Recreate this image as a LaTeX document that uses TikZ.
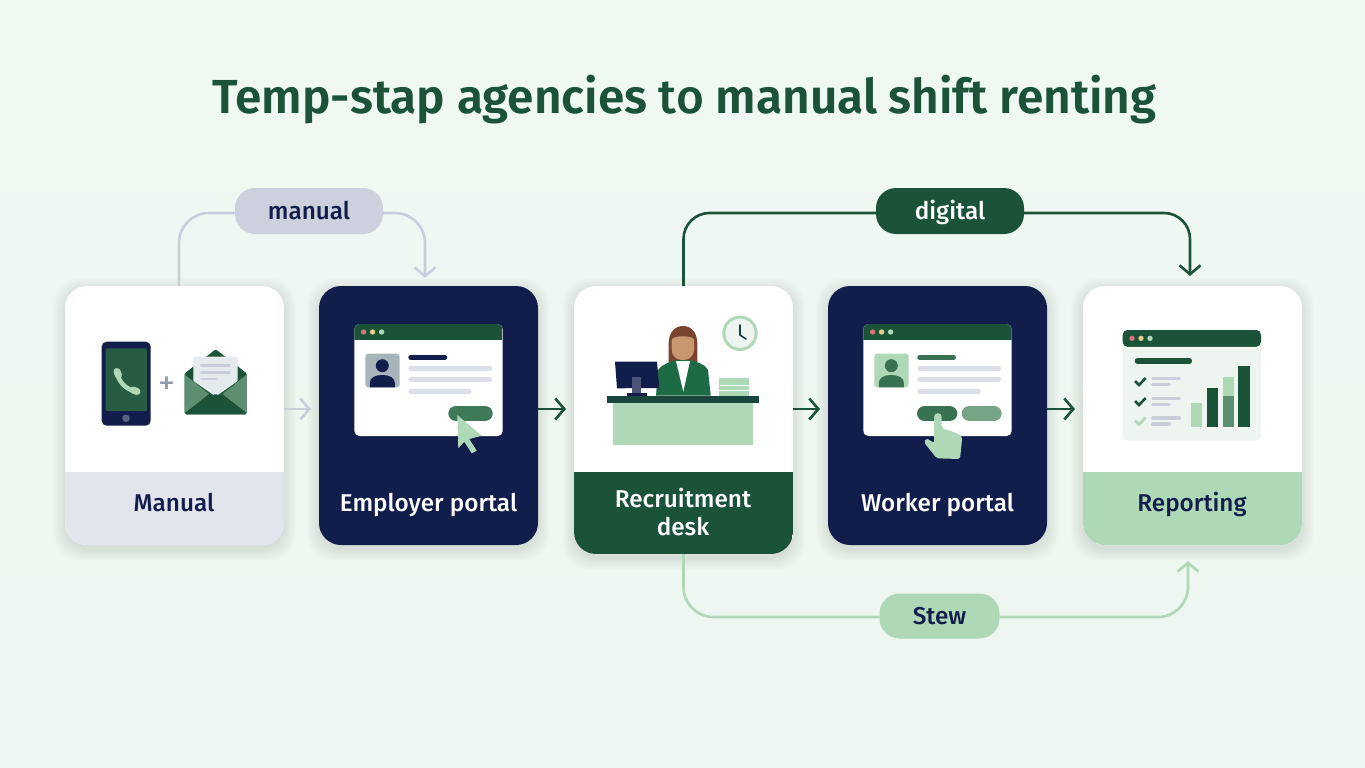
\documentclass[tikz,border=0pt]{standalone}
\usepackage{fontspec}
\setmainfont{Fira Sans}
\newfontfamily\labelfont{Fira Sans Medium}
\newfontfamily\titlefont{Fira Sans SemiBold}
\newfontfamily\titlelight{Fira Sans Medium}
\usetikzlibrary{arrows.meta,calc}
\definecolor{navy}{HTML}{111D4A}
\definecolor{forest}{HTML}{1B5338}
\definecolor{midgreen}{HTML}{3F7A58}
\definecolor{softgreen}{HTML}{5C8F70}
\definecolor{mint}{HTML}{AFD8B6}
\definecolor{mist}{HTML}{E3E5EE}
\definecolor{linegrey}{HTML}{DCDEE8}
\definecolor{pillgrey}{HTML}{CDD1DE}
\definecolor{wirelight}{HTML}{C9CEDB}
\definecolor{paper}{HTML}{EEF5F0}
\definecolor{bgtop}{HTML}{F0F8F2}
\definecolor{bgbottom}{HTML}{EEF6F1}
\definecolor{dotred}{HTML}{D9737B}
\definecolor{dotyellow}{HTML}{E6C98A}
\definecolor{hair}{HTML}{7A4530}
\definecolor{skin}{HTML}{C9976F}
\definecolor{jacket}{HTML}{1D6B45}
\tikzset{
  cardbox/.style={rectangle,rounded corners=22pt,minimum width=219pt,inner sep=0pt,outer sep=0pt,fill=white},
  cardlabel/.style={font=\labelfont\fontsize{24.3}{28}\selectfont,align=center,inner sep=0pt,anchor=base},
  pill/.style={rectangle,rounded corners=20pt,inner sep=0pt,outer sep=0pt,minimum height=46pt},
  pilltext/.style={font=\labelfont\fontsize{24.3}{28}\selectfont,inner sep=0pt,anchor=base},
  wire/.style={line width=2.6pt,rounded corners=30pt},
  flowtip/.style={-{Straight Barb[length=9pt,width=21pt,line width=2.6pt]}},
}
% soft drop shadow below a rounded card
\newcommand{\softshadow}[4]{%
  \foreach \g in {1,2,...,12}{
    \fill[black!40!forest,opacity=0.009,rounded corners=26pt]
      (#1-\g,#2-\g+4) rectangle (#3+\g,#4+\g+4);
  }}
% coloured footer band clipped to the card outline
\newcommand{\footband}[6]{%
  \begin{scope}
    \clip[rounded corners=22pt] (#1,#2) rectangle (#3,#4);
    \fill[#6] (#1,#5) rectangle (#3,#4);
  \end{scope}}
% short rounded bar
\newcommand{\rbar}[5]{\draw[line width=#4pt,line cap=round,#5] (#1+#4/2,#3) -- (#2-#4/2,#3);}
% bust of a person: centre x, head y, colour
\newcommand{\bust}[3]{%
  \fill[#3] (#1,#2) circle (6.5);
  \fill[#3] (#1-12.5,#2+21.6) -- (#1-12.5,#2+17) .. controls (#1-12.5,#2+12) and (#1-7,#2+9.3) .. (#1,#2+9.3)
     .. controls (#1+7,#2+9.3) and (#1+12.5,#2+12) .. (#1+12.5,#2+17) -- (#1+12.5,#2+21.6) -- cycle;}
% application window with title bar and three dots
\newcommand{\appwindow}[6]{%
  \fill[#5,rounded corners=5pt] (#1,#2) rectangle (#3,#4);
  \begin{scope}
    \clip[rounded corners=5pt] (#1,#2) rectangle (#3,#4);
    \fill[forest] (#1,#2) rectangle (#3,#2+#6);
  \end{scope}
  \fill[dotred] (#1+9.3,#2+#6/2) circle (2.7);
  \fill[dotyellow] (#1+18.3,#2+#6/2) circle (2.7);
  \fill[mint] (#1+27.3,#2+#6/2) circle (2.7);}
\begin{document}
\begin{tikzpicture}[x=1pt,y=-1pt]
\useasboundingbox (0,0) rectangle (1365,768);
\shade[top color=bgtop,bottom color=bgbottom] (0,0) rectangle (1365,768);

% title
\node[font=\titlefont\fontsize{47.8}{54}\selectfont,text=forest,inner sep=0pt,anchor=base] (heading) at (684.5,113)
  {Temp-stap agencies {\titlelight to} manual shift renting};

% shadows
\softshadow{65}{286}{284}{545}
\softshadow{319}{286}{538}{545}
\softshadow{574}{286}{793}{554}
\softshadow{828}{286}{1047}{545}
\softshadow{1083}{286}{1302}{545}

% cards
\node[cardbox,minimum height=259pt] (cardManual) at (174.5,415.5) {};
\footband{65}{286}{284}{545}{472}{mist}
\node[cardbox,minimum height=259pt,fill=navy] (cardEmployer) at (428.5,415.5) {};
\node[cardbox,minimum height=268pt] (cardDesk) at (683.5,420) {};
\footband{574}{286}{793}{554}{472}{forest}
\node[cardbox,minimum height=259pt,fill=navy] (cardWorker) at (937.5,415.5) {};
\node[cardbox,minimum height=259pt] (cardReport) at (1192.5,415.5) {};
\footband{1083}{286}{1302}{545}{472}{mint}

% card captions
\node[cardlabel,text=navy] (capManual) at (174,511.5) {Manual};
\node[cardlabel,text=white] (capEmployer) at (428.5,511.5) {Employer portal};
\node[cardlabel,text=white] (capDeskA) at (683,507) {Recruitment};
\node[cardlabel,text=white] (capDeskB) at (683,535) {desk};
\node[cardlabel,text=white] (capWorker) at (937.5,511.5) {Worker portal};
\node[cardlabel,text=navy] (capReport) at (1192,511.5) {Reporting};

% pills
\node[pill,fill=pillgrey,minimum width=148pt] (pillManual) at (309,211) {};
\node[pilltext,text=navy] (txtManual) at (309,219.5) {manual};
\node[pill,fill=forest,minimum width=148pt] (pillDigital) at (950,211) {};
\node[pilltext,text=white] (txtDigital) at (950,219.5) {digital};
\node[pill,fill=mint,minimum width=120pt,minimum height=45pt] (pillStew) at (939.5,616) {};
\node[pilltext,text=navy] (txtStew) at (939.5,624.5) {Stew};

% routed connectors
\draw[wire,wirelight] ([xshift=4.5pt]cardManual.north) |- ([yshift=-2pt]pillManual.west);
\draw[wire,wirelight,flowtip] ([yshift=-2pt]pillManual.east) -| ([xshift=-3.5pt,yshift=8pt]cardEmployer.north);
\draw[wire,forest,rounded corners=26pt] (cardDesk.north) |- ([yshift=-2pt]pillDigital.west);
\draw[wire,forest,flowtip,rounded corners=26pt] ([yshift=-2pt]pillDigital.east) -| ([xshift=-2.5pt,yshift=10pt]cardReport.north);
\draw[wire,mint] (cardDesk.south) |- ([yshift=-1pt]pillStew.west);
\draw[wire,mint,flowtip] ([yshift=-1pt]pillStew.east) -| ([xshift=-4.5pt,yshift=-16pt]cardReport.south);

% straight flow arrows
\coordinate (flowline) at (0,409);
\draw[wire,wirelight,flowtip] (cardManual.east |- flowline) -- ([xshift=-8pt]cardEmployer.west |- flowline);
\draw[wire,forest,flowtip] (cardEmployer.east |- flowline) -- ([xshift=-8pt]cardDesk.west |- flowline);
\draw[wire,forest,flowtip] (cardDesk.east |- flowline) -- ([xshift=-8pt]cardWorker.west |- flowline);
\draw[wire,forest,flowtip] (cardWorker.east |- flowline) -- ([xshift=-8pt]cardReport.west |- flowline);

% phone
\fill[navy,rounded corners=5pt] (101.7,341.7) rectangle (150.7,425.7);
\fill[forest!95!white,rounded corners=1pt] (105.7,348.3) rectangle (147,411);
\fill[navy!70!white] (126,418.3) circle (3.8);
\draw[mint,line width=4.5pt,line cap=round] (117.5,373) .. controls (118,381) and (126,390) .. (135.5,391);
\draw[mint,line width=7pt,line cap=round] (117,371.5) -- (118.5,375.5);
\draw[mint,line width=7pt,line cap=round] (133,390) -- (137,391.5);
\node[font=\fontsize{34}{34}\selectfont,text=wirelight!70!navy,inner sep=0pt] (plusSign) at (167,385.5) {+};

% envelope
\fill[forest,rounded corners=1.5pt] (184.7,373.3) -- (215.7,349.3) -- (246.7,373.3) -- (246.7,414.3) -- (184.7,414.3) -- cycle;
\fill[linegrey!50!paper,rounded corners=1pt] (193.3,356.7) -- (237.7,356.7) -- (237.7,381) -- (215.7,396.5) -- (193.3,381) -- cycle;
\rbar{200}{230.7}{365.7}{2.5}{wirelight}
\rbar{200}{230.7}{372.3}{2.5}{wirelight}
\rbar{200}{217.3}{379}{2.5}{wirelight}
\fill[softgreen] (184.7,374.5) -- (209,394) -- (184.7,413) -- cycle;
\fill[softgreen] (246.7,374.5) -- (222.4,394) -- (246.7,413) -- cycle;
\fill[forest,rounded corners=1.5pt] (184.7,414.3) -- (215.7,393.5) -- (246.7,414.3) -- cycle;

% employer window
\appwindow{354.3}{324}{502.7}{436}{white}{16}
\fill[wirelight!80!forest,rounded corners=3pt] (365.3,353.7) rectangle (399.7,387.3);
\begin{scope}
  \clip[rounded corners=3pt] (365.3,353.7) rectangle (399.7,387.3);
  \bust{382.3}{365.7}{navy}
\end{scope}
\rbar{408.3}{447.3}{357.3}{5}{navy}
\rbar{408.3}{492.3}{368.7}{5}{linegrey}
\rbar{408.3}{492.3}{379.7}{5}{linegrey}
\rbar{408.3}{471.7}{391}{5}{linegrey}
\rbar{448.3}{492.7}{413.5}{15.6}{midgreen}
\fill[mint] (457.3,415) -- (481.7,435.7) -- (469.3,439) -- (476.7,450.7) -- (471.7,453.3) -- (464.3,441.7) -- (458.3,448.3) -- cycle;

% recruitment desk scene
\draw[mint,line width=3pt,fill=paper] (740,333.3) circle (16.2);
\draw[forest!60!navy,line width=1.6pt,line cap=round,line join=round] (740,325) -- (740,335) -- (746,339);
\fill[hair] (668.7,363) -- (668.7,343) .. controls (669,332) and (675,326) .. (683,326)
  .. controls (691,326) and (697,332) .. (697.3,343) -- (697.3,363) -- cycle;
\fill[jacket] (656,395.7) -- (658,370) .. controls (662,364) and (670,362) .. (677,360)
  -- (690,360) .. controls (697,362) and (705,364) .. (708,370) -- (710.7,395.7) -- cycle;
\fill[white] (676,361) -- (690,361) -- (683.3,391.7) -- cycle;
\fill[skin] (671.7,340) .. controls (672,335) and (694,335) .. (694,340)
  -- (694,350) .. controls (693,358) and (688,360) .. (683,360) .. controls (678,360) and (672.5,358) .. (671.7,350) -- cycle;
\fill[navy] (615,361.7) -- (657,361.7) -- (659.3,388) -- (617,388.3) -- cycle;
\fill[navy!75!white] (632.3,377) -- (640.7,377) -- (640.7,395) -- (632.3,395) -- cycle;
\fill[navy] (626.7,392.7) rectangle (647.3,395.7);
\fill[mint] (719.3,378.3) rectangle (749.3,395.7);
\draw[white,line width=1pt] (720,385) -- (749.3,385);
\draw[white,line width=1pt] (719.3,390) -- (749.3,390);
\fill[mint] (613.3,403.3) rectangle (752.7,444.7);
\fill[forest!75!navy] (607,395.7) rectangle (758.7,403.3);

% worker window
\appwindow{863.3}{324}{1011.7}{436}{white}{16}
\fill[mint,rounded corners=3pt] (874.3,353.7) rectangle (908.7,387.3);
\begin{scope}
  \clip[rounded corners=3pt] (874.3,353.7) rectangle (908.7,387.3);
  \bust{891.3}{365.7}{midgreen!80!forest}
\end{scope}
\rbar{917.3}{956}{357.3}{5}{midgreen!80!forest}
\rbar{917.3}{1001}{368.7}{5}{linegrey}
\rbar{917.3}{1001}{379.7}{5}{linegrey}
\rbar{917.3}{980.7}{391}{5}{linegrey}
\rbar{917}{957.3}{413.5}{15.6}{midgreen!80!forest}
\rbar{961.7}{1001.7}{413.5}{15.6}{softgreen!70!mint}
\fill[mint,rounded corners=2pt] (934,417.3) -- (934,443) -- (926.7,438.3) -- (924,442.3) -- (936.7,458.3) -- (960,459)
  -- (962.3,436.7) -- (956.7,433.3) -- (950,430.7) -- (941.7,428.3) -- (941.7,417.3) -- cycle;
\fill[mint] (937.85,417) circle (3.85);

% reporting window
\fill[paper,rounded corners=5pt] (1122.7,330) rectangle (1261,440.7);
\appwindow{1122.7}{330}{1261}{346.7}{forest}{16.7}
\rbar{1134.7}{1192}{361}{5.5}{forest}
\draw[forest,line width=2.6pt] (1135,381) -- (1139,385) -- (1145.7,378);
\draw[forest,line width=2.6pt] (1135,401) -- (1139,405) -- (1145.7,398);
\draw[mint,line width=2.6pt] (1135,420.5) -- (1139,424.5) -- (1145.7,417.5);
\rbar{1151}{1181}{378.7}{3.5}{wirelight}
\rbar{1151}{1171}{384.7}{3.5}{wirelight}
\rbar{1151}{1181}{398.3}{3.5}{wirelight}
\rbar{1151}{1171}{404.3}{3.5}{wirelight}
\rbar{1151}{1181}{418}{3.5}{wirelight}
\rbar{1151}{1171}{424}{3.5}{wirelight}
\fill[mint] (1191.3,403.3) rectangle (1202.3,427);
\fill[forest] (1207,387.7) rectangle (1218.3,427);
\fill[mint] (1222.7,376.7) rectangle (1234,396.3);
\fill[softgreen] (1222.7,396.3) rectangle (1234,427);
\fill[forest] (1238.3,366) rectangle (1249.7,427);
\end{tikzpicture}
\end{document}
